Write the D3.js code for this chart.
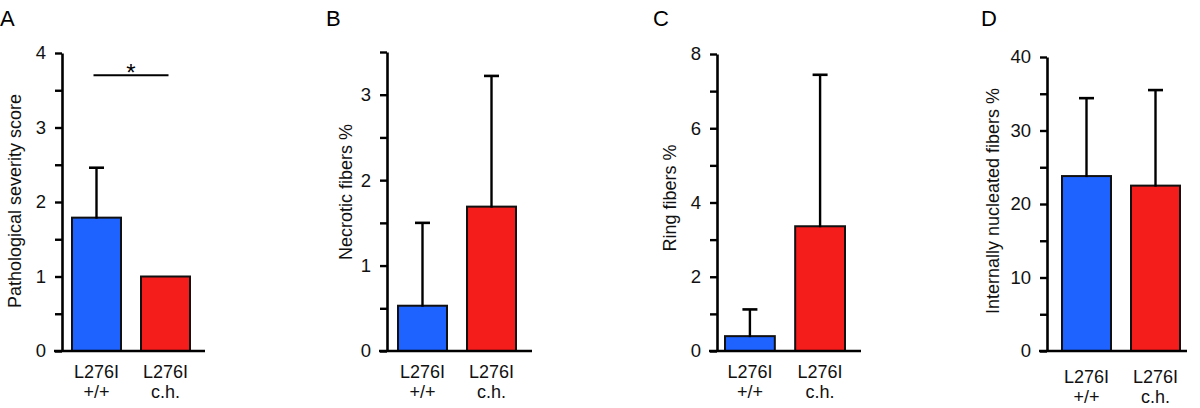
<!DOCTYPE html>
<html>
<head>
<meta charset="utf-8">
<script src="https://cdn.jsdelivr.net/npm/d3@7"></script>
<style>
  html, body { margin: 0; padding: 0; background: #fff; }
  svg { display: block; font-family: "Liberation Sans", Arial, sans-serif; }
</style>
</head>
<body>
<svg id="chart" width="1200" height="408"></svg>
<script>
// ---- data ----
const categories = ["L276I +/+", "L276I c.h."];
const categoryLine1 = ["L276I", "L276I"];
const categoryLine2 = ["+/+", "c.h."];
const panelLetters = ["A", "B", "C", "D"];
const yTitles = ["Pathological severity score", "Necrotic fibers %", "Ring fibers %", "Internally nucleated fibers %"];
const severityMean = [1.79, 1.0];
const severityErr = [0.67, 0];
const necroticMean = [0.53, 1.69];
const necroticErr = [0.97, 1.53];
const ringMean = [0.40, 3.36];
const ringErr = [0.72, 4.08];
const nucleatedMean = [23.8, 22.5];
const nucleatedErr = [10.6, 13.0];
const yMaxes = [4, 3.5, 8, 40];
const minorSteps = [0.5, 0.5, 1, 5];
const labelSteps = [1, 1, 2, 10];
const significance = ["*", null, null, null];

const means = [severityMean, necroticMean, ringMean, nucleatedMean];
const errs = [severityErr, necroticErr, ringErr, nucleatedErr];
const colors = ["#1e62ff", "#f51c1c"];

// ---- layout (not data) ----
const layout = [
  { axisX: 62,   yTop: 53, barStart: 10, barEnd: 128, xEnd: 205, letterX: 0,   titleX: 15,  titleY: 201, labY: 378 },
  { axisX: 387,  yTop: 52, barStart: 11, barEnd: 129, xEnd: 532, letterX: 326, titleX: 346, titleY: 192, labY: 378 },
  { axisX: 717,  yTop: 54, barStart: 8,  barEnd: 128, xEnd: 861, letterX: 653, titleX: 670, titleY: 198, labY: 378 },
  { axisX: 1047, yTop: 57, barStart: 15, barEnd: 133, xEnd: 1187, letterX: 981, titleX: 993, titleY: 201, labY: 383 }
];
const yBottom = 351;
const tickLen = 7;

const svg = d3.select("#chart");

layout.forEach((L, p) => {
  const g = svg.append("g");
  const y = d3.scaleLinear().domain([0, yMaxes[p]]).range([yBottom, L.yTop]);
  const x = d3.scaleBand().domain(categories)
    .range([L.axisX + L.barStart, L.axisX + L.barEnd])
    .paddingInner(0.29).paddingOuter(0);

  // bars
  g.selectAll("rect.bar").data(categories).join("rect")
    .attr("x", d => x(d))
    .attr("width", x.bandwidth())
    .attr("y", (d, i) => y(means[p][i]))
    .attr("height", (d, i) => yBottom - y(means[p][i]))
    .attr("fill", (d, i) => colors[i])
    .attr("stroke", "#111")
    .attr("stroke-width", 2);

  // error bars
  categories.forEach((c, i) => {
    if (!errs[p][i]) return;
    const cx = x(c) + x.bandwidth() / 2;
    const top = y(means[p][i] + errs[p][i]);
    g.append("line").attr("x1", cx).attr("x2", cx)
      .attr("y1", y(means[p][i]) + 1).attr("y2", top)
      .attr("stroke", "#000").attr("stroke-width", 2.4);
    g.append("line").attr("x1", cx - 7.5).attr("x2", cx + 7.5)
      .attr("y1", top).attr("y2", top)
      .attr("stroke", "#000").attr("stroke-width", 2.6);
  });

  // y axis
  const tickVals = d3.range(0, yMaxes[p] + 1e-9, minorSteps[p]);
  const axis = d3.axisLeft(y).tickValues(tickVals).tickSize(tickLen).tickSizeOuter(0).tickPadding(9)
    .tickFormat(v => (Math.abs(v / labelSteps[p] - Math.round(v / labelSteps[p])) < 1e-9) ? d3.format("d")(v) : "");
  const ag = g.append("g").attr("transform", `translate(${L.axisX},0)`).call(axis);
  ag.select(".domain").attr("stroke", "#000").attr("stroke-width", 2.6);
  ag.selectAll(".tick line").attr("stroke", "#000").attr("stroke-width", 2.4);
  ag.selectAll(".tick text").attr("font-size", 18.5).attr("fill", "#111")
    .attr("font-family", "'Liberation Sans', Arial, sans-serif");

  // x baseline
  g.append("line").attr("x1", L.axisX - tickLen - 1).attr("x2", L.xEnd)
    .attr("y1", yBottom).attr("y2", yBottom)
    .attr("stroke", "#000").attr("stroke-width", 2.6);

  // category labels
  categories.forEach((c, i) => {
    const cx = x(c) + x.bandwidth() / 2;
    const t = g.append("text").attr("x", cx).attr("y", L.labY)
      .attr("text-anchor", "middle").attr("font-size", 18).attr("fill", "#111");
    t.append("tspan").attr("x", cx).text(categoryLine1[i]);
    t.append("tspan").attr("x", cx).attr("dy", 20).text(categoryLine2[i]);
  });

  // y title
  g.append("text")
    .attr("transform", `translate(${L.titleX},${L.titleY}) rotate(-90)`)
    .attr("text-anchor", "middle").attr("dy", "0.35em")
    .attr("font-size", 18).attr("fill", "#111")
    .text(yTitles[p]);

  // panel letter
  g.append("text").attr("x", L.letterX).attr("y", 26)
    .attr("font-size", 22).attr("fill", "#000").text(panelLetters[p]);

  // significance
  if (significance[p]) {
    const x1 = x(categories[0]) + x.bandwidth() / 2 - 3;
    const x2 = x(categories[1]) + x.bandwidth() / 2 + 3;
    const sy = y(3.7);
    g.append("line").attr("x1", x1).attr("x2", x2).attr("y1", sy).attr("y2", sy)
      .attr("stroke", "#000").attr("stroke-width", 2);
    g.append("text").attr("x", (x1 + x2) / 2).attr("y", sy + 6)
      .attr("text-anchor", "middle").attr("font-size", 24).attr("fill", "#000")
      .text(significance[p]);
  }
});
</script>
</body>
</html>
